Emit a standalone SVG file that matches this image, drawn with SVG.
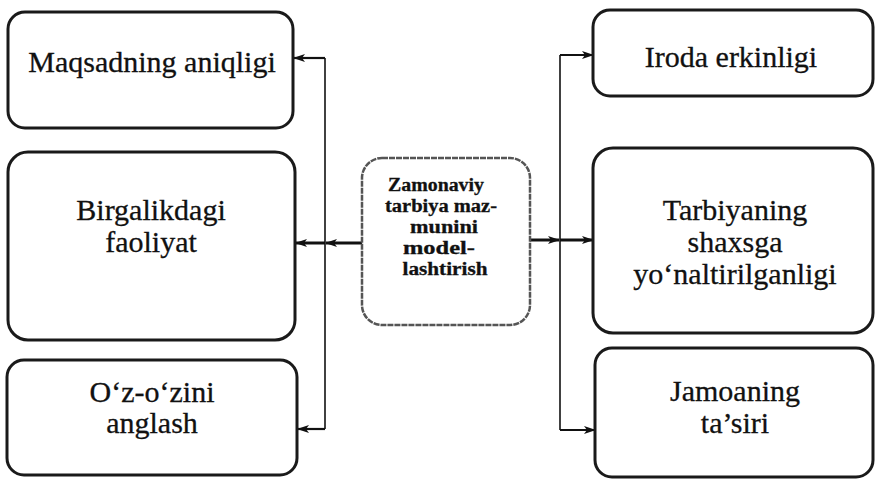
<svg xmlns="http://www.w3.org/2000/svg" width="875" height="479" viewBox="0 0 875 479">
<style>
.box{fill:#fff;stroke:#1a1a1a;stroke-width:3}
.cbox{fill:#fff;stroke:#555;stroke-width:2.5;stroke-dasharray:6 1}
.t{font-family:"Liberation Serif","Times New Roman",serif;font-size:30px;fill:#111;stroke:#111;stroke-width:0.3;text-anchor:middle}
.ct{font-family:"Liberation Serif","Times New Roman",serif;font-size:18px;font-weight:bold;fill:#111;stroke:#111;stroke-width:0.3;text-anchor:middle}
.v{stroke:#111;stroke-width:1.6;fill:none}
.h{stroke:#111;stroke-width:2.2;fill:none;marker-end:url(#ah)}
.hm{stroke:#111;stroke-width:3;fill:none;marker-end:url(#ah)}
</style>
<defs>
<marker id="ah" markerUnits="userSpaceOnUse" markerWidth="12" markerHeight="10" refX="11" refY="5" orient="auto">
<path d="M0,1 L12,5 L0,9 L3,5 Z" fill="#111"/>
</marker>
</defs>
<rect width="875" height="479" fill="#fff"/>
<g id="connectors">
<line class="v" x1="325" y1="58" x2="325" y2="429"/>
<line class="v" x1="560" y1="55" x2="560" y2="430"/>
<path class="h" d="M325,58 H294"/>
<path class="h" d="M325,429 H298"/>
<path class="hm" d="M362,243 H326"/>
<path class="hm" d="M325,243 H296"/>
<path class="hm" d="M530,240 H559"/>
<path class="hm" d="M560,240 H593"/>
<path class="h" d="M560,55 H593"/>
<path class="h" d="M560,430 H595"/>
</g>
<g id="n-maqsad">
<rect class="box" x="8" y="12" width="285" height="116" rx="17"/>
<text class="t" x="152" y="72">Maqsadning aniqligi</text>
</g>
<g id="n-birgalik">
<rect class="box" x="8" y="152" width="287" height="188" rx="20"/>
<text class="t" x="151" y="220">Birgalikdagi</text>
<text class="t" x="151" y="252">faoliyat</text>
</g>
<g id="n-ozozini">
<rect class="box" x="7" y="360" width="290" height="115" rx="17"/>
<text class="t" x="152" y="402">O‘z-o‘zini</text>
<text class="t" x="152" y="433">anglash</text>
</g>
<g id="n-center">
<rect class="cbox" x="362" y="158" width="168" height="167" rx="20"/>
<text class="ct" x="436" y="191" textLength="96" lengthAdjust="spacingAndGlyphs">Zamonaviy</text>
<text class="ct" x="441" y="212" textLength="112" lengthAdjust="spacingAndGlyphs">tarbiya maz-</text>
<text class="ct" x="444" y="233" textLength="68" lengthAdjust="spacingAndGlyphs">munini</text>
<text class="ct" x="439" y="254" textLength="72" lengthAdjust="spacingAndGlyphs">model-</text>
<text class="ct" x="445" y="275" textLength="85" lengthAdjust="spacingAndGlyphs">lashtirish</text>
</g>
<g id="n-iroda">
<rect class="box" x="593" y="10" width="280" height="86" rx="17"/>
<text class="t" x="731" y="67">Iroda erkinligi</text>
</g>
<g id="n-tarbiya">
<rect class="box" x="593" y="148" width="280" height="185" rx="20"/>
<text class="t" x="735" y="220">Tarbiyaning</text>
<text class="t" x="735" y="252">shaxsga</text>
<text class="t" x="735" y="284">yo‘naltirilganligi</text>
</g>
<g id="n-jamoa">
<rect class="box" x="595" y="348" width="278" height="129" rx="17"/>
<text class="t" x="735" y="401">Jamoaning</text>
<text class="t" x="735" y="433">ta’siri</text>
</g>
</svg>
